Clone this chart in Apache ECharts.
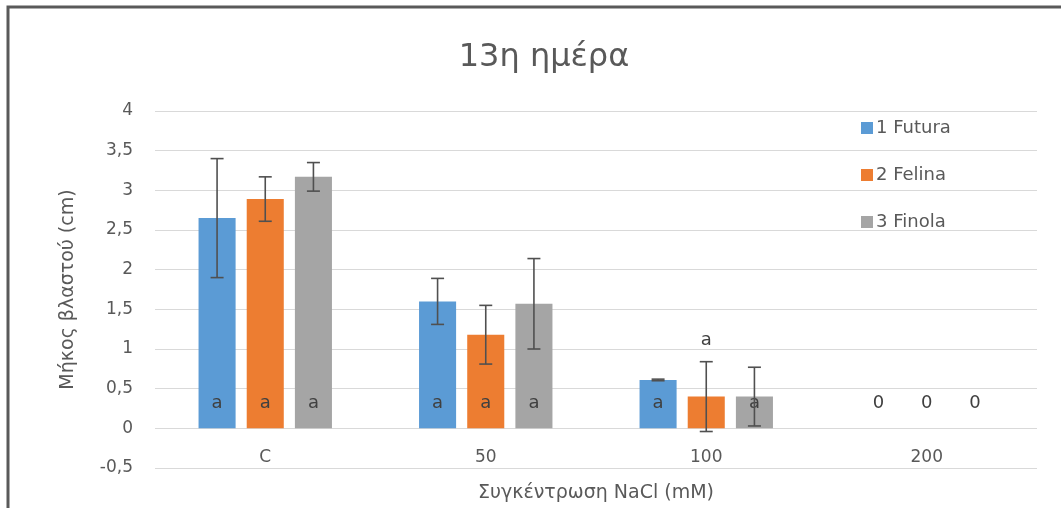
<!DOCTYPE html>
<html>
<head>
<meta charset="utf-8">
<script src="https://cdn.jsdelivr.net/npm/echarts@6/dist/echarts.min.js"></script>
<style>
html,body{margin:0;padding:0;background:#fff;}
#chart{width:1061px;height:508px;}
</style>
</head>
<body>
<div id="chart"></div>
<script>
const categories = ['C', '50', '100', '200'];
const seriesNames = ['1 Futura', '2 Felina', '3 Finola'];
const futura = [2.65, 1.60, 0.61, 0];
const felina = [2.89, 1.18, 0.40, 0];
const finola = [3.17, 1.57, 0.40, 0];
const futuraErr = [0.75, 0.29, 0.01, 0];
const felinaErr = [0.28, 0.37, 0.44, 0];
const finolaErr = [0.18, 0.57, 0.37, 0];
const futuraLabels = ['a', 'a', 'a', '0'];
const felinaLabels = ['a', 'a', 'a', '0'];
const finolaLabels = ['a', 'a', 'a', '0'];
const yTicks = [-0.5, 0, 0.5, 1, 1.5, 2, 2.5, 3, 3.5, 4];

const colors = ['#5B9BD5', '#ED7D31', '#A5A5A5'];
const values = [futura, felina, finola];
const errs = [futuraErr, felinaErr, finolaErr];
const labels = [futuraLabels, felinaLabels, finolaLabels];
const textColor = '#595959';
const FONT = 'DejaVu Sans';

const chart = echarts.init(document.getElementById('chart'), null, {renderer: 'canvas'});

const BAR_CAT_GAP = 0.395, BAR_GAP = 0.30;

const series = [];
values.forEach((vals, si) => {
  series.push({
    name: seriesNames[si],
    type: 'bar',
    barCategoryGap: (BAR_CAT_GAP * 100) + '%',
    barGap: (BAR_GAP * 100) + '%',
    itemStyle: {color: colors[si]},
    data: vals.map((v, ci) => {
      const item = {value: v};
      // Felina at 100: label shown above the error bar
      if (si === 1 && ci === 2) {
        item.label = {position: 'top', distance: 47};
      }
      return item;
    }),
    label: {
      show: true,
      position: 'insideBottom',
      distance: 16,
      color: '#404040',
      fontFamily: FONT,
      fontSize: 18,
      formatter: p => labels[si][p.dataIndex]
    },
    z: 2
  });
});

values.forEach((vals, si) => {
  series.push({
    name: seriesNames[si] + ' err',
    type: 'custom',
    z: 5,
    silent: true,
    renderItem: function (params, api) {
      const ci = api.value(0);
      const v = api.value(1);
      const e = api.value(2);
      if (e <= 0) return null;
      const band = api.size([1, 0])[0];
      const usable = band * (1 - BAR_CAT_GAP);
      const n = 3;
      const bw = usable / (n + (n - 1) * BAR_GAP);
      const off = -usable / 2 + bw / 2 + si * bw * (1 + BAR_GAP);
      const top = api.coord([ci, v + e]);
      const bot = api.coord([ci, v - e]);
      const x = top[0] + off;
      const cap = 6.5;
      const style = {stroke: '#505050', lineWidth: 1.6};
      return {
        type: 'group',
        children: [
          {type: 'line', shape: {x1: x, y1: top[1], x2: x, y2: bot[1]}, style},
          {type: 'line', shape: {x1: x - cap, y1: top[1], x2: x + cap, y2: top[1]}, style},
          {type: 'line', shape: {x1: x - cap, y1: bot[1], x2: x + cap, y2: bot[1]}, style}
        ]
      };
    },
    encode: {x: 0, y: 1},
    data: vals.map((v, ci) => [ci, v, errs[si][ci]])
  });
});

chart.setOption({
  animation: false,
  backgroundColor: '#fff',
  title: {
    text: '13η ημέρα',
    left: 539,
    textAlign: 'center',
    top: 37,
    textStyle: {color: textColor, fontSize: 32, fontWeight: 'normal', fontFamily: FONT}
  },
  legend: {
    orient: 'vertical',
    left: 856,
    top: 114,
    itemWidth: 12,
    itemHeight: 12,
    itemGap: 29,
    icon: 'rect',
    data: seriesNames,
    textStyle: {color: textColor, fontSize: 18, fontFamily: FONT, padding: [0, 0, 0, -2]},
    backgroundColor: 'transparent'
  },
  grid: {left: 155, right: 24, top: 111, bottom: 40, containLabel: false, outerBoundsMode: 'none'},
  xAxis: {
    type: 'category',
    data: categories,
    axisLine: {show: false, onZero: false},
    axisTick: {show: false},
    axisLabel: {inside: true, margin: 2, color: textColor, fontSize: 17, fontFamily: FONT},
    name: 'Συγκέντρωση NaCl (mM)',
    nameLocation: 'middle',
    nameGap: 16,
    nameTextStyle: {color: textColor, fontSize: 19, fontFamily: FONT}
  },
  yAxis: {
    type: 'value',
    min: yTicks[0],
    max: yTicks[yTicks.length - 1],
    interval: 0.5,
    axisLine: {show: false},
    axisTick: {show: false},
    splitLine: {lineStyle: {color: '#D9D9D9', width: 1}},
    axisLabel: {
      margin: 22,
      color: textColor,
      fontSize: 17,
      fontFamily: FONT,
      formatter: v => String(v).replace('.', ',')
    },
    name: 'Μήκος βλαστού (cm)',
    nameLocation: 'middle',
    nameGap: 77,
    nameRotate: 90,
    nameTextStyle: {color: textColor, fontSize: 19, fontFamily: FONT}
  },
  graphic: [{
    type: 'rect',
    shape: {x: 8, y: 7, width: 1100, height: 600},
    style: {fill: 'none', stroke: '#5a5a5a', lineWidth: 3},
    z: 100
  }],
  series: series
});
</script>
</body>
</html>
